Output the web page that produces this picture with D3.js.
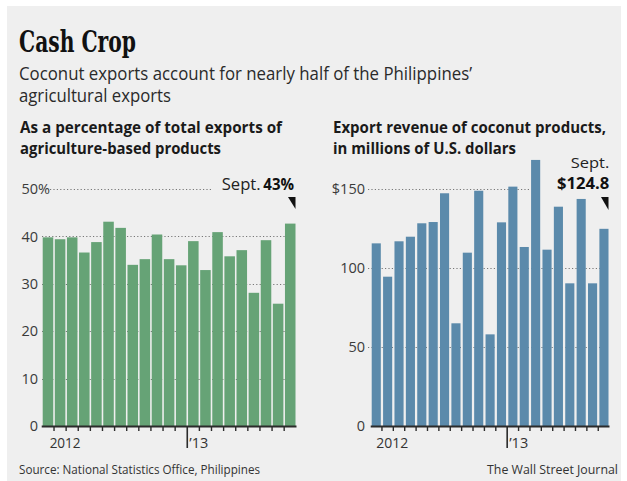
<!DOCTYPE html>
<html><head><meta charset="utf-8">
<script src="https://cdn.jsdelivr.net/npm/d3@7"></script>
<style>
html,body{margin:0;padding:0;background:#fff;}
svg{display:block;}
text{font-family:"Open Sans",sans-serif;fill:#222;}
</style></head>
<body>
<svg id="c" width="627" height="481"></svg>
<script>
const months = ["Jan 2012","Feb 2012","Mar 2012","Apr 2012","May 2012","Jun 2012","Jul 2012","Aug 2012","Sep 2012","Oct 2012","Nov 2012","Dec 2012",
  "Jan 2013","Feb 2013","Mar 2013","Apr 2013","May 2013","Jun 2013","Jul 2013","Aug 2013","Sep 2013"];
const sharePct = [39.8,39.4,39.8,36.6,38.8,43.1,41.8,34.0,35.2,40.4,35.2,33.9,39.0,32.9,40.9,35.8,37.1,28.1,39.2,25.8,42.7];
const revenueUSD = [115.6,94.5,116.9,119.8,128.3,129.1,147.3,65.0,109.7,148.9,58.0,128.9,151.5,113.3,168.4,111.6,138.8,90.3,143.7,90.3,124.8];
const leftTicks = [0,10,20,30,40,50];
const rightTicks = [0,50,100,150];

const svg = d3.select("#c");
svg.append("rect").attr("x",7).attr("y",6).attr("width",614).attr("height",475).attr("fill","#efefef");

function txt(x,y,s,opt){
  const t = svg.append("text").attr("x",x).attr("y",y).text(s)
    .style("font-size",(opt.size||14)+"px").style("font-weight",opt.weight||400);
  if(opt.family) t.style("font-family",opt.family);
  if(opt.fill) t.style("fill",opt.fill);
  if(opt.len) t.attr("textLength",opt.len).attr("lengthAdjust","spacingAndGlyphs");
  if(opt.anchor) t.attr("text-anchor",opt.anchor);
  return t;
}

txt(19,52,"Cash Crop",{size:29,weight:700,family:"'DejaVu Serif',serif",len:117,fill:"#111"});
txt(19,80,"Coconut exports account for nearly half of the Philippines’",{size:18,len:453,fill:"#2a2a2a"});
txt(19,102,"agricultural exports",{size:18,len:152,fill:"#2a2a2a"});
txt(20,133,"As a percentage of total exports of",{size:15.5,weight:700,len:262,fill:"#1a1a1a"});
txt(20,154,"agriculture-based products",{size:15.5,weight:700,len:201,fill:"#1a1a1a"});
txt(333,133,"Export revenue of coconut products,",{size:15.5,weight:700,len:273,fill:"#1a1a1a"});
txt(333,154,"in millions of U.S. dollars",{size:15.5,weight:700,len:183,fill:"#1a1a1a"});
txt(19,474,"Source: National Statistics Office, Philippines",{size:13,len:241,fill:"#333"});
txt(618,474,"The Wall Street Journal",{size:13,len:131,anchor:"end",fill:"#333"});

function panel(cfg){
  const x = d3.scaleBand().domain(months).range(cfg.xr).paddingInner(cfg.pad).paddingOuter(0);
  const y = d3.scaleLinear().domain(cfg.dom).range([426,189]);
  const g = svg.append("g");
  const half = x.step()*cfg.pad/2;
  cfg.grid.forEach(gr=>{
    g.append("line").attr("x1",gr.x1).attr("x2",gr.x2).attr("y1",Math.round(y(gr.v))+0.5).attr("y2",Math.round(y(gr.v))+0.5)
      .attr("stroke","#777").attr("stroke-width",1).attr("stroke-dasharray","1.2,2.2");
  });
  g.selectAll("rect.bar").data(cfg.values).join("rect").attr("class","bar")
    .attr("x",(d,i)=>x(months[i])).attr("width",x.bandwidth())
    .attr("y",d=>y(d)).attr("height",d=>y(0)-y(d)).attr("fill",cfg.color);
  const ax = g.append("g").attr("transform",`translate(${cfg.labelX},0)`)
    .call(d3.axisLeft(y).tickValues(cfg.ticks).tickSize(0).tickPadding(0).tickFormat(cfg.fmt));
  ax.select(".domain").remove();
  ax.selectAll("text").style("font-size","14.5px").style("fill","#3a3a3a").style("font-family","'Open Sans',sans-serif");
  if(cfg.pctTick!==undefined){
    ax.selectAll(".tick").filter(d=>d===cfg.pctTick).append("text")
      .attr("x",0).attr("dy","0.32em").attr("text-anchor","start").text("%")
      .style("font-size","14.5px").style("fill","#3a3a3a");
  }
  g.append("line").attr("x1",cfg.xr[0]-1).attr("x2",cfg.xr[1]+1).attr("y1",426.5).attr("y2",426.5)
    .attr("stroke","#2b2b2b").attr("stroke-width",2);
  for(let i=1;i<months.length;i++){
    const bx = x(months[i]) - half;
    const long = months[i]==="Jan 2013";
    g.append("line").attr("x1",bx).attr("x2",bx).attr("y1",426).attr("y2",long?448:431)
      .attr("stroke","#2b2b2b").attr("stroke-width",long?1.6:1.4);
    if(long){
      txt(bx+2,448,"’13",{size:14,len:19,fill:"#333"});
    }
  }
  const b2 = x(months[2]) - half;
  txt(b2-1,448,"2012",{size:14,len:cfg.yrLen,anchor:"middle",fill:"#333"});
  const last = x(months[months.length-1]) + x.bandwidth();
  const tri = d3.path();
  tri.moveTo(last-7.5,cfg.triY[0]); tri.lineTo(last,cfg.triY[0]); tri.lineTo(last,cfg.triY[1]); tri.closePath();
  g.append("path").attr("d",tri.toString()).attr("fill","#111");
  return {x,y,last};
}

panel({xr:[42.7,295.5],pad:0.13,dom:[0,50],values:sharePct,color:"#66a376",
  ticks:leftTicks,fmt:d=>String(d),labelX:38,pctTick:50,yrLen:31,triY:[197,209],
  grid:[{v:10,x1:42,x2:296},{v:20,x1:42,x2:296},{v:30,x1:42,x2:296},{v:40,x1:42,x2:296},{v:50,x1:50,x2:213}]});
txt(221.7,190,"Sept.",{size:15.5,len:39,fill:"#222"});
txt(263.3,190,"43%",{size:15.5,weight:700,len:30.7,fill:"#111"});

panel({xr:[371.7,608.5],pad:0.2,dom:[0,150],values:revenueUSD,color:"#5b8aab",
  ticks:rightTicks,fmt:d=>d===150?"$150":String(d),labelX:365,yrLen:32,triY:[197,210],
  grid:[{v:50,x1:368,x2:609},{v:100,x1:368,x2:609},{v:150,x1:368,x2:531}]});
txt(609.3,168,"Sept.",{size:15,len:38.6,anchor:"end",fill:"#222"});
txt(609.3,189,"$124.8",{size:16,weight:700,len:52.3,anchor:"end",fill:"#111"});
</script>
</body></html>
